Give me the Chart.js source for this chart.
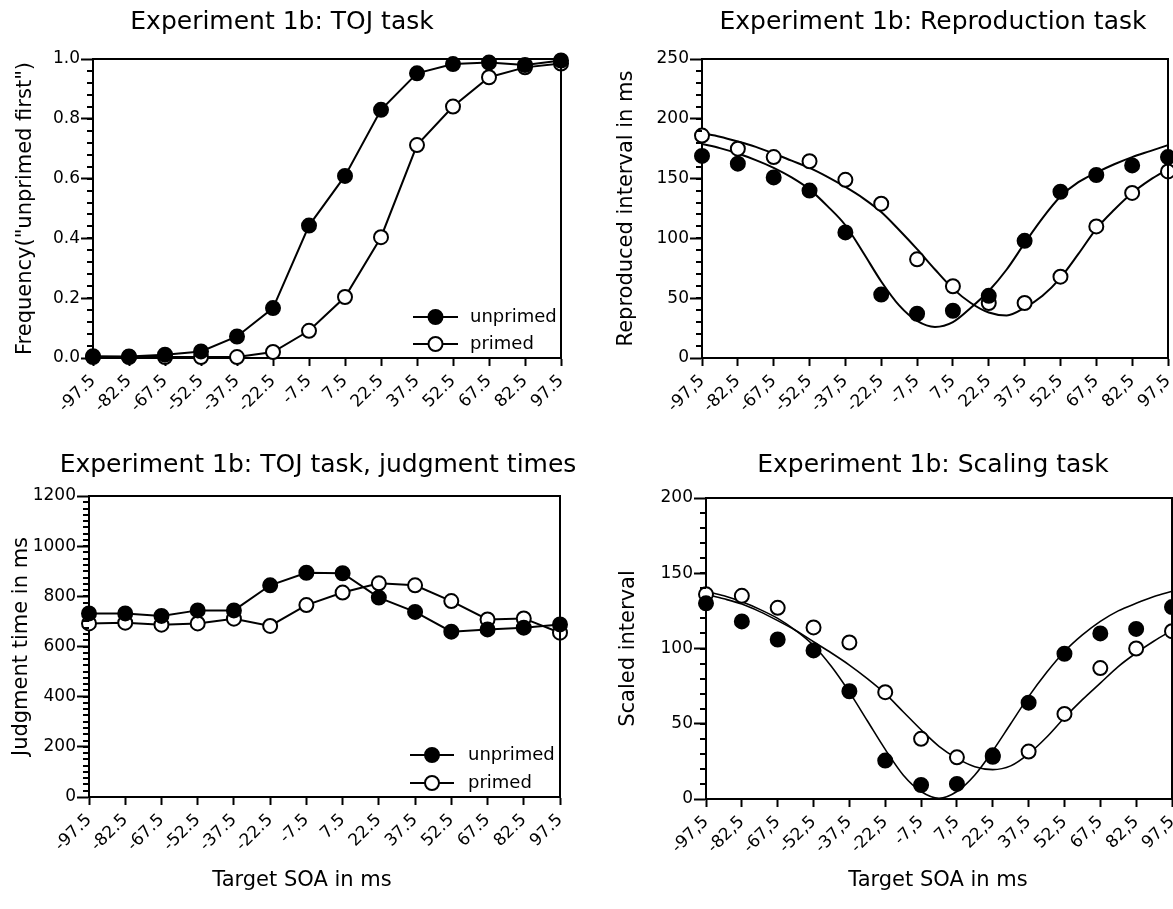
<!DOCTYPE html>
<html><head><meta charset="utf-8">
<script src="https://cdn.jsdelivr.net/npm/chart.js@4.4.1/dist/chart.umd.min.js"></script>
<style>
html,body{margin:0;padding:0;background:#fff;}
#wrap{position:relative;width:1173px;height:909px;overflow:hidden;background:#fff;}
canvas{position:absolute;}
</style></head><body>
<div id="wrap">
<canvas id="c1" style="left:0px;top:0px;width:586px;height:455px" width="586" height="455"></canvas>
<canvas id="c2" style="left:586px;top:0px;width:620px;height:455px" width="620" height="455"></canvas>
<canvas id="c3" style="left:0px;top:440px;width:586px;height:469px" width="586" height="469"></canvas>
<canvas id="c4" style="left:586px;top:440px;width:620px;height:469px" width="620" height="469"></canvas>
</div>
<script>
// ---------------- DATA ----------------
const soa = [-97.5,-82.5,-67.5,-52.5,-37.5,-22.5,-7.5,7.5,22.5,37.5,52.5,67.5,82.5,97.5];
const soaLabelsDot = ['-97.5','-82.5','-67.5','-52.5','-37.5','-22.5','-7.5','7.5','22.5','37.5','52.5','67.5','82.5','97.5'];
const soaLabelsComma = ['-97,5','-82,5','-67,5','-52,5','-37,5','-22,5','-7,5','7,5','22,5','37,5','52,5','67,5','82,5','97,5'];

// Panel 1: TOJ task
const tojUnprimed = [0.006,0.005,0.011,0.022,0.072,0.167,0.443,0.609,0.830,0.952,0.983,0.988,0.980,0.995];
const tojPrimed   = [0.003,0.003,0.003,0.003,0.003,0.020,0.091,0.204,0.404,0.712,0.841,0.939,0.972,0.985];
const tojYTicks = [0,0.2,0.4,0.6,0.8,1.0];
const tojYLabels = ['0.0','0.2','0.4','0.6','0.8','1.0'];

// Panel 2: Reproduction task
const reproUnprimed = [169,162.5,151,140,105,53,37,39.5,52,98,139,153,161,168];
const reproPrimed   = [186,175,168,164.5,149,129,82.5,60,46,46,68,110,138,156];
const fitX = [-97.5,-90,-82.5,-75,-67.5,-60,-52.5,-45,-37.5,-30,-22.5,-15,-7.5,0,7.5,15,22.5,30,37.5,45,52.5,60,67.5,75,82.5,90,97.5];
const reproFitUnprimed = [179,175.5,171,165.5,159,151,141,127,111,88,64,44,31,26,30,42,56,74,96,117,135,147,155,162,168,173,178];
const reproFitPrimed   = [188,185,181,176.5,171,165,159,151.5,143,133.5,122,107,91,74,58,46,38,35.5,42,52,67,87,108,124,138,149,158];
const reproYTicks = [0,50,100,150,200,250];
const reproYLabels = ['0','50','100','150','200','250'];

// Panel 3: TOJ judgment times
const jtUnprimed = [732,732,722,744,744,844,894,892,795,738,659,668,675,688];
const jtPrimed   = [692,695,687,692,711,682,765,815,852,844,781,708,712,655];
const jtYTicks = [0,200,400,600,800,1000,1200];
const jtYLabels = ['0','200','400','600','800','1000','1200'];

// Panel 4: Scaling task
const scaleUnprimed = [130,118,106,98.7,71.6,25.5,9.3,10,28,64,96.5,110,113,127.5];
const scalePrimed   = [136,135,127,114,104,71,40,27.7,29,31.5,56.5,87,100,111.5];
const scaleFitUnprimed = [138,135,131,126,120,112,102,88,71,52,33,16,5,0.5,5,16,32,50,68,84,98,109,118,125,130,134.5,138];
const scaleFitPrimed   = [136,133,129.5,124.5,118.5,112,104.5,97,89,80,70,58,46,35,27,21.5,19.5,22,30,41,54,66,77,88,97,105,112];
const scaleYTicks = [0,50,100,150,200];
const scaleYLabels = ['0','50','100','150','200'];

const seriesNames = ['unprimed','primed'];
const titles = ['Experiment 1b: TOJ task','Experiment 1b: Reproduction task','Experiment 1b: TOJ task, judgment times','Experiment 1b: Scaling task'];
const yTitles = ['Frequency("unprimed first")','Reproduced interval in ms','Judgment time in ms','Scaled interval'];
const xTitle = 'Target SOA in ms';

// ---------------- HELPERS ----------------
const FONT = 'DejaVu Sans';
Chart.defaults.font.family = FONT;
Chart.defaults.color = '#000';

const pts = (xs, ys) => xs.map((x, i) => ({x: x, y: ys[i]}));

const titlePlugin = {
  id: 'panelTitle',
  afterDraw(chart, args, o) {
    if (!o || !o.items) return;
    const ctx = chart.ctx;
    ctx.save();
    ctx.fillStyle = '#000';
    ctx.textAlign = 'center';
    ctx.textBaseline = 'middle';
    o.items.forEach(it => {
      ctx.font = it.size + 'px "' + FONT + '"';
      ctx.fillText(it.text, it.x, it.y);
    });
    ctx.restore();
  }
};

const framePlugin = {
  id: 'frame',
  afterDraw(chart, args, o) {
    const ctx = chart.ctx, a = chart.chartArea, ys = chart.scales.y;
    ctx.save();
    ctx.strokeStyle = '#000';
    ctx.lineWidth = 2;
    ctx.beginPath();
    ctx.moveTo(a.left - 1, a.top);
    ctx.lineTo(a.right, a.top);
    ctx.lineTo(a.right, a.bottom + 1);
    ctx.stroke();
    if (o && o.minor) {
      const n = Math.round((ys.max - ys.min) / o.minor);
      for (let i = 1; i < n; i++) {
        const v = ys.min + i * o.minor;
        const py = Math.round(ys.getPixelForValue(v));
        ctx.beginPath();
        ctx.moveTo(a.left - o.minorLen, py);
        ctx.lineTo(a.left, py);
        ctx.stroke();
      }
    }
    ctx.restore();
  }
};

const legendPlugin = {
  id: 'insideLegend',
  afterDatasetsDraw(chart, args, o) {
    if (!o || !o.show) return;
    const ctx = chart.ctx, a = chart.chartArea;
    ctx.save();
    chart.data.datasets.forEach(d => {
      if (d.legendRow === undefined) return;
      const y = a.bottom - o.rows[d.legendRow];
      const x1 = a.right - o.lineStart, x2 = a.right - o.lineEnd, xm = (x1 + x2) / 2;
      ctx.strokeStyle = '#000';
      ctx.lineWidth = 2;
      ctx.beginPath(); ctx.moveTo(x1, y); ctx.lineTo(x2, y); ctx.stroke();
      ctx.beginPath(); ctx.arc(xm, y, d.pointRadius, 0, Math.PI * 2);
      ctx.fillStyle = d.pointBackgroundColor; ctx.fill();
      ctx.lineWidth = d.pointBorderWidth; ctx.stroke();
      ctx.fillStyle = '#000';
      ctx.font = o.size + 'px "' + FONT + '"';
      ctx.textAlign = 'left';
      ctx.textBaseline = 'middle';
      ctx.fillText(d.label, a.right - o.textStart, y);
    });
    ctx.restore();
  }
};

function pointSet(label, data, filled, withLine, row, lw) {
  return {
    label: label, data: data, order: 1,
    showLine: withLine, borderColor: '#000', borderWidth: lw || 2, tension: 0,
    pointRadius: 7, pointBorderWidth: 2,
    pointBackgroundColor: filled ? '#000' : '#fff', pointBorderColor: '#000',
    pointHoverRadius: 7, clip: false, legendRow: row
  };
}
function fitSet(label, data, lw) {
  return {
    label: label, data: data, order: 2, showLine: true,
    borderColor: '#000', borderWidth: lw, pointRadius: 0, pointHoverRadius: 0,
    cubicInterpolationMode: 'monotone', clip: false
  };
}

function panel(id, o) {
  return new Chart(document.getElementById(id), {
    type: 'line',
    data: { datasets: o.datasets },
    options: {
      responsive: false, animation: false, events: [],
      layout: { padding: o.padding },
      plugins: {
        legend: { display: false }, tooltip: { enabled: false },
        panelTitle: { items: o.texts }, insideLegend: o.legend || { show: false }, frame: o.frame
      },
      scales: {
        x: {
          type: 'linear', min: -97.5, max: 97.5,
          afterBuildTicks: s => { s.ticks = soa.map(v => ({ value: v })); },
          afterFit: s => { s.height = o.xHeight; },
          ticks: { autoSkip: false, minRotation: 45, maxRotation: 45, padding: 5,
                   font: { size: 17 }, color: '#000', callback: (v, i) => o.xLabels[i] },
          grid: { drawOnChartArea: false, drawTicks: true, tickLength: 8, tickWidth: 2, color: '#000', tickColor: '#000' },
          border: { display: true, color: '#000', width: 2 },
          title: { display: false }
        },
        y: {
          type: 'linear', min: o.yMin, max: o.yMax,
          afterBuildTicks: s => { s.ticks = o.yTicks.map(v => ({ value: v })); },
          afterFit: s => { s.width = o.yWidth; },
          ticks: { padding: 1, font: { size: 17 }, color: '#000', callback: (v, i) => o.yLabels[i] },
          grid: { drawOnChartArea: false, drawTicks: true, tickLength: 12, tickWidth: 2, color: '#000', tickColor: '#000' },
          border: { display: true, color: '#000', width: 2 },
          title: { display: true, text: o.yTitle, color: '#000', font: { size: 21, lineHeight: 1.2 },
                   padding: { top: o.yTitlePad, bottom: 0 } }
        }
      }
    },
    plugins: [titlePlugin, legendPlugin, framePlugin]
  });
}

const legendOpts = { show: true, rows: [41, 14], lineStart: 148, lineEnd: 103, textStart: 91, size: 18 };

// Panel 1
panel('c1', {
  datasets: [
    pointSet(seriesNames[0], pts(soa, tojUnprimed), true, true, 0),
    pointSet(seriesNames[1], pts(soa, tojPrimed), false, true, 1)
  ],
  padding: { left: 0, right: 25, top: 59, bottom: 0 },
  xHeight: 97, yWidth: 93, yTitlePad: 13,
  xLabels: soaLabelsDot, yMin: 0, yMax: 1, yTicks: tojYTicks, yLabels: tojYLabels, yTitle: yTitles[0],
  texts: [{ text: titles[0], x: 282, y: 22, size: 25 }],
  legend: legendOpts,
  frame: { minor: 0.04, minorLen: 6 }
});

// Panel 2
panel('c2', {
  datasets: [
    pointSet(seriesNames[0], pts(soa, reproUnprimed), true, false),
    pointSet(seriesNames[1], pts(soa, reproPrimed), false, false),
    fitSet(seriesNames[0] + ' fit', pts(fitX, reproFitUnprimed), 2),
    fitSet(seriesNames[1] + ' fit', pts(fitX, reproFitPrimed), 2)
  ],
  padding: { left: 0, right: 38, top: 59, bottom: 0 },
  xHeight: 97, yWidth: 116, yTitlePad: 28,
  xLabels: soaLabelsComma, yMin: 0, yMax: 250, yTicks: reproYTicks, yLabels: reproYLabels, yTitle: yTitles[1],
  texts: [{ text: titles[1], x: 347, y: 22, size: 25 }],
  frame: { minor: 10, minorLen: 6 }
});

// Panel 3
panel('c3', {
  datasets: [
    pointSet(seriesNames[0], pts(soa, jtUnprimed), true, true, 0),
    pointSet(seriesNames[1], pts(soa, jtPrimed), false, true, 1)
  ],
  padding: { left: 0, right: 26, top: 56, bottom: 0 },
  xHeight: 112, yWidth: 89, yTitlePad: 9,
  xLabels: soaLabelsDot, yMin: 0, yMax: 1200, yTicks: jtYTicks, yLabels: jtYLabels, yTitle: yTitles[2],
  texts: [{ text: titles[2], x: 318, y: 25, size: 25 }, { text: xTitle, x: 302, y: 441, size: 21 }],
  legend: { show: true, rows: [42, 14], lineStart: 150, lineEnd: 106, textStart: 92, size: 18 },
  frame: { minor: 25, minorLen: 6 }
});

// Panel 4
panel('c4', {
  datasets: [
    pointSet(seriesNames[0], pts(soa, scaleUnprimed), true, false),
    pointSet(seriesNames[1], pts(soa, scalePrimed), false, false),
    fitSet(seriesNames[0] + ' fit', pts(fitX, scaleFitUnprimed), 1.6),
    fitSet(seriesNames[1] + ' fit', pts(fitX, scaleFitPrimed), 1.6)
  ],
  padding: { left: 0, right: 34, top: 58, bottom: 0 },
  xHeight: 110, yWidth: 120, yTitlePad: 30,
  xLabels: soaLabelsComma, yMin: 0, yMax: 200, yTicks: scaleYTicks, yLabels: scaleYLabels, yTitle: yTitles[3],
  texts: [{ text: titles[3], x: 347, y: 25, size: 25 }, { text: xTitle, x: 352, y: 441, size: 21 }],
  frame: { minor: 10, minorLen: 6 }
});
</script>
</body></html>
